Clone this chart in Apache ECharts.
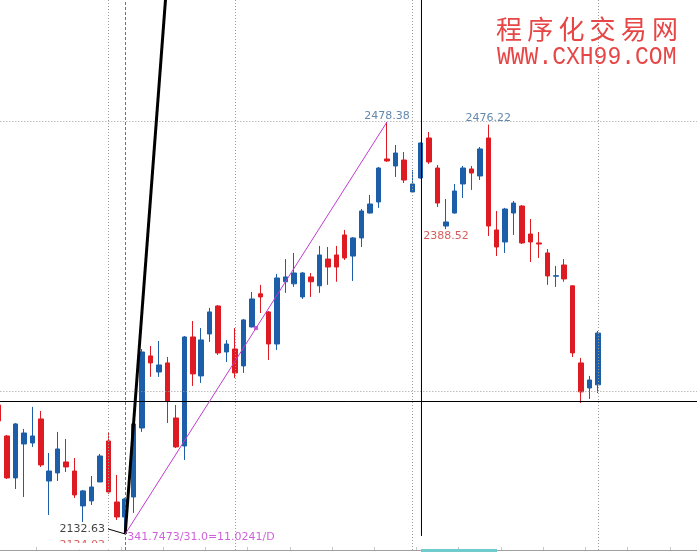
<!DOCTYPE html>
<html>
<head>
<meta charset="utf-8">
<style>
  html, body { margin: 0; padding: 0; background: #ffffff; overflow: hidden; width: 697px; height: 552px; }
  #chart { position: absolute; left: -6px; top: 0; width: 712px; height: 552px; }
</style>
<script src="https://cdn.jsdelivr.net/npm/echarts@6/dist/echarts.min.js"></script>
</head>
<body>
<div id="chart"></div>
<script>
// ---- data (daily bars) ----
const categories = Array.from({ length: 84 }, (_, i) => String(i));

const opens = [2240.9, 2214.9, 2179.7, 2208.2, 2209.0, 2229.2, 2177.1, 2183.9, 2193.1, 2185.5,
  2156.2, 2160.4, 2176.3, 2210.7, 2159.5, 2146.9, 2163.7, 2221.6, 2282.1, 2268.6,
  2276.2, 2230.0, 2206.5, 2298.0, 2265.3, 2300.5, 2324.0, 2285.4, 2287.9, 2273.7,
  2306.4, 2334.2, 2319.0, 2292.1, 2344.3, 2342.6, 2331.6, 2348.4, 2340.9, 2363.4,
  2366.8, 2383.6, 2365.9, 2381.1, 2402.0, 2411.3, 2447.4, 2441.5, 2446.5, 2419.7,
  2431.4, 2465.0, 2439.8, 2391.1, 2402.0, 2426.4, 2439.0, 2433.1, 2465.0, 2387.8,
  2377.7, 2402.0, 2407.9, 2384.4, 2376.9, 2368.5, 2349.0, 2358.4, 2340.9, 2276.2,
  2255.2, 2257.8];
const closes = [2227.5, 2179.7, 2225.0, 2217.4, 2214.9, 2190.6, 2185.5, 2204.0, 2188.9, 2165.4,
  2168.8, 2172.1, 2198.1, 2167.9, 2146.9, 2162.0, 2225.0, 2285.4, 2276.2, 2274.5,
  2244.3, 2205.7, 2298.0, 2267.0, 2295.5, 2319.0, 2284.6, 2292.1, 2267.8, 2312.3,
  2329.9, 2331.6, 2292.1, 2347.5, 2348.4, 2351.7, 2351.7, 2344.3, 2366.8, 2356.7,
  2356.7, 2364.3, 2381.1, 2403.7, 2409.6, 2439.8, 2445.7, 2452.4, 2429.7, 2426.4,
  2460.8, 2444.9, 2410.4, 2394.5, 2420.5, 2439.8, 2435.6, 2455.8, 2391.1, 2373.5,
  2405.4, 2410.4, 2376.9, 2377.7, 2376.0, 2349.2, 2349.4, 2346.7, 2284.6, 2251.9,
  2261.9, 2301.3];
const lows = [2225.8, 2178.8, 2170.4, 2163.7, 2205.7, 2188.9, 2148.6, 2177.1, 2184.7, 2162.9,
  2142.7, 2157.0, 2176.3, 2166.3, 2144.4, 2132.63, 2150.3, 2218.3, 2264.5, 2264.5,
  2225.8, 2204.8, 2194.8, 2256.9, 2259.4, 2293.8, 2282.9, 2277.0, 2263.6, 2267.8,
  2306.0, 2318.1, 2278.7, 2287.1, 2335.0, 2340.0, 2329.9, 2331.6, 2335.0, 2341.7,
  2344.3, 2362.6, 2345.0, 2373.5, 2401.6, 2406.3, 2445.0, 2432.3, 2427.2, 2418.8,
  2431.0, 2443.2, 2407.1, 2388.52, 2401.6, 2414.6, 2421.4, 2429.7, 2382.7, 2365.9,
  2368.5, 2383.6, 2376.0, 2360.9, 2364.3, 2341.7, 2340.0, 2344.3, 2281.2, 2242.6,
  2246.0, 2251.0];
const highs = [2243.4, 2215.7, 2225.8, 2220.8, 2239.3, 2235.9, 2200.6, 2218.3, 2212.4, 2196.4,
  2169.6, 2181.3, 2199.8, 2217.4, 2182.2, 2163.0, 2225.8, 2287.9, 2290.4, 2294.6,
  2281.2, 2240.9, 2298.8, 2311.4, 2305.5, 2322.4, 2324.8, 2295.5, 2305.5, 2313.1,
  2335.8, 2341.7, 2319.8, 2350.9, 2363.4, 2368.5, 2352.5, 2351.7, 2374.4, 2373.5,
  2374.4, 2387.8, 2381.9, 2405.4, 2417.2, 2440.6, 2478.38, 2459.1, 2453.2, 2438.1,
  2461.2, 2470.0, 2442.3, 2413.8, 2426.4, 2441.5, 2441.5, 2457.4, 2476.22, 2403.7,
  2406.3, 2412.1, 2408.7, 2397.0, 2386.1, 2371.8, 2357.6, 2363.4, 2341.3, 2280.4,
  2265.3, 2303.0];

// drawn objects, in (bar index, price)
const steepLine = [[15, 2132.63], [19.77, 2580.8]];
const channelLine = [[15, 2132.63], [46, 2478.38]];
const channelMid = [[30.5, 2305.5]];
const lowConnector = [[12.96, 2136.9], [15, 2132.63]];
const crossV = [[50.09, 2580.8], [50.09, 2131.0]];
const crossHPrice = 2244.3;
const gridPrices = [2478.9, 2252.3];
const gridBars = [13, 28, 49, 71];
const markerBar = 15;

const priceLabels = [
  { at: [46, 2478.38], text: '2478.38', color: '#3b6b98', pos: 'top', dist: 0 },
  { at: [58, 2476.22], text: '2476.22', color: '#3b6b98', pos: 'top', dist: 1 },
  { at: [53, 2388.52], text: '2388.52', color: '#cc3333', pos: 'bottom', dist: 2 },
  { at: [12.96, 2136.9], text: '2132.63', color: '#111111', pos: 'left', dist: 3 },
  { at: [12.96, 2123.4], text: '2134.02', color: '#cc3333', pos: 'left', dist: 3 }
];
const channelText = '341.7473/31.0=11.0241/D';

const BLUE = '#1c5fa8';
const RED = '#de1b22';
const MAG = '#c23ad0';
const FONT = 'DejaVu Sans';

const chart = echarts.init(document.getElementById('chart'), null, { renderer: 'canvas' });

const bw = 8.443;
const N = categories.length;
const SHIFT = 6; // the chart div starts 6px left of the window

const option = {
  animation: false,
  backgroundColor: '#ffffff',
  grid: { left: 0.34, top: 0, width: N * bw, height: 550, containLabel: false },
  xAxis: [
    {
      type: 'category', data: categories, boundaryGap: true,
      axisLine: { show: true, lineStyle: { color: '#a0a0a0', width: 1 } },
      axisTick: { show: true, interval: 4, inside: true, length: 3, lineStyle: { color: '#c8c8c8' } },
      axisLabel: { show: false }, splitLine: { show: false }
    },
    { type: 'value', min: -0.5, max: N - 0.5, show: false, splitLine: { show: false } }
  ],
  yAxis: { type: 'value', min: 2119.2, max: 2580.8, show: false, splitLine: { show: false } },
  graphic: [
    {
      type: 'text', left: 496 + SHIFT, top: 16, z: 100,
      style: { text: '程\u2009序\u2009化\u2009交\u2009易\u2009网', fill: '#e64646', font: '26px "Noto Sans CJK SC"' }
    },
    {
      type: 'text', x: 497 + SHIFT, y: 44, scaleY: 1.15, z: 100,
      style: { text: 'WWW.CXH99.COM', fill: '#e64646', font: '23px "Liberation Mono"', textVerticalAlign: 'top' }
    },
    { type: 'rect', z: 100, shape: { x: 421 + SHIFT, y: 549, width: 76, height: 3 }, style: { fill: '#70cccc' } },
    { type: 'rect', z: 100, shape: { x: 40 + SHIFT, y: 543, width: 80, height: 6.5 }, style: { fill: '#ffffff' } }
  ],
  series: [
    {
      name: 'grid', type: 'line', xAxisIndex: 1, data: [], silent: true, z: 1,
      markLine: {
        silent: true, symbol: ['none', 'none'], label: { show: false },
        lineStyle: { color: '#9c9c9c', type: [1, 2], width: 1 },
        data: gridPrices.map(p => ({ yAxis: p })).concat(gridBars.map(b => ({ xAxis: b })))
      }
    },
    {
      name: 'marker', type: 'line', xAxisIndex: 1, data: [], silent: true, z: 1,
      markLine: {
        silent: true, symbol: ['none', 'none'], label: { show: false },
        lineStyle: { color: '#a06a30', type: [3, 2], width: 1 },
        data: [{ xAxis: markerBar }]
      }
    },
    {
      name: 'bars', type: 'candlestick', xAxisIndex: 0, barWidth: 5, z: 3,
      data: opens.map((o, i) => [o, closes[i], lows[i], highs[i]]),
      itemStyle: { color: BLUE, color0: RED, borderColor: BLUE, borderColor0: RED, borderWidth: 1 }
    },
    {
      name: 'crossH', type: 'line', xAxisIndex: 1, data: [], silent: true, z: 5,
      markLine: {
        silent: true, symbol: ['none', 'none'], label: { show: false },
        lineStyle: { color: '#000000', type: 'solid', width: 1 },
        data: [{ yAxis: crossHPrice }]
      }
    },
    {
      name: 'crossV', type: 'line', xAxisIndex: 1, data: crossV, symbol: 'none', z: 5,
      lineStyle: { color: '#000000', width: 1 }
    },
    {
      name: 'steep', type: 'line', xAxisIndex: 1, data: steepLine, symbol: 'none', z: 6,
      lineStyle: { color: '#000000', width: 3 }
    },
    {
      name: 'channel', type: 'line', xAxisIndex: 1, data: channelLine, symbol: 'none', z: 6,
      lineStyle: { color: MAG, width: 1 }
    },
    {
      name: 'connector', type: 'line', xAxisIndex: 1, data: lowConnector, symbol: 'none', z: 6,
      lineStyle: { color: '#000000', width: 1 }
    },
    {
      name: 'mid', type: 'scatter', xAxisIndex: 1, data: channelMid, symbol: 'rect', symbolSize: 4, z: 7,
      itemStyle: { color: MAG }
    },
    {
      name: 'channelText', type: 'scatter', xAxisIndex: 1, symbolSize: 0, z: 8,
      data: [{ value: channelLine[0] }],
      label: {
        show: true, position: 'right', distance: 2, offset: [0, 3],
        formatter: channelText, color: MAG, fontSize: 11, fontFamily: FONT
      }
    },
    {
      name: 'priceLabels', type: 'scatter', xAxisIndex: 1, symbolSize: 0, z: 8,
      data: priceLabels.map(l => ({
        value: l.at,
        label: { show: true, position: l.pos, distance: l.dist, formatter: l.text, color: l.color, fontSize: 11, fontFamily: FONT }
      }))
    }
  ]
};

chart.setOption(option);
</script>
</body>
</html>
